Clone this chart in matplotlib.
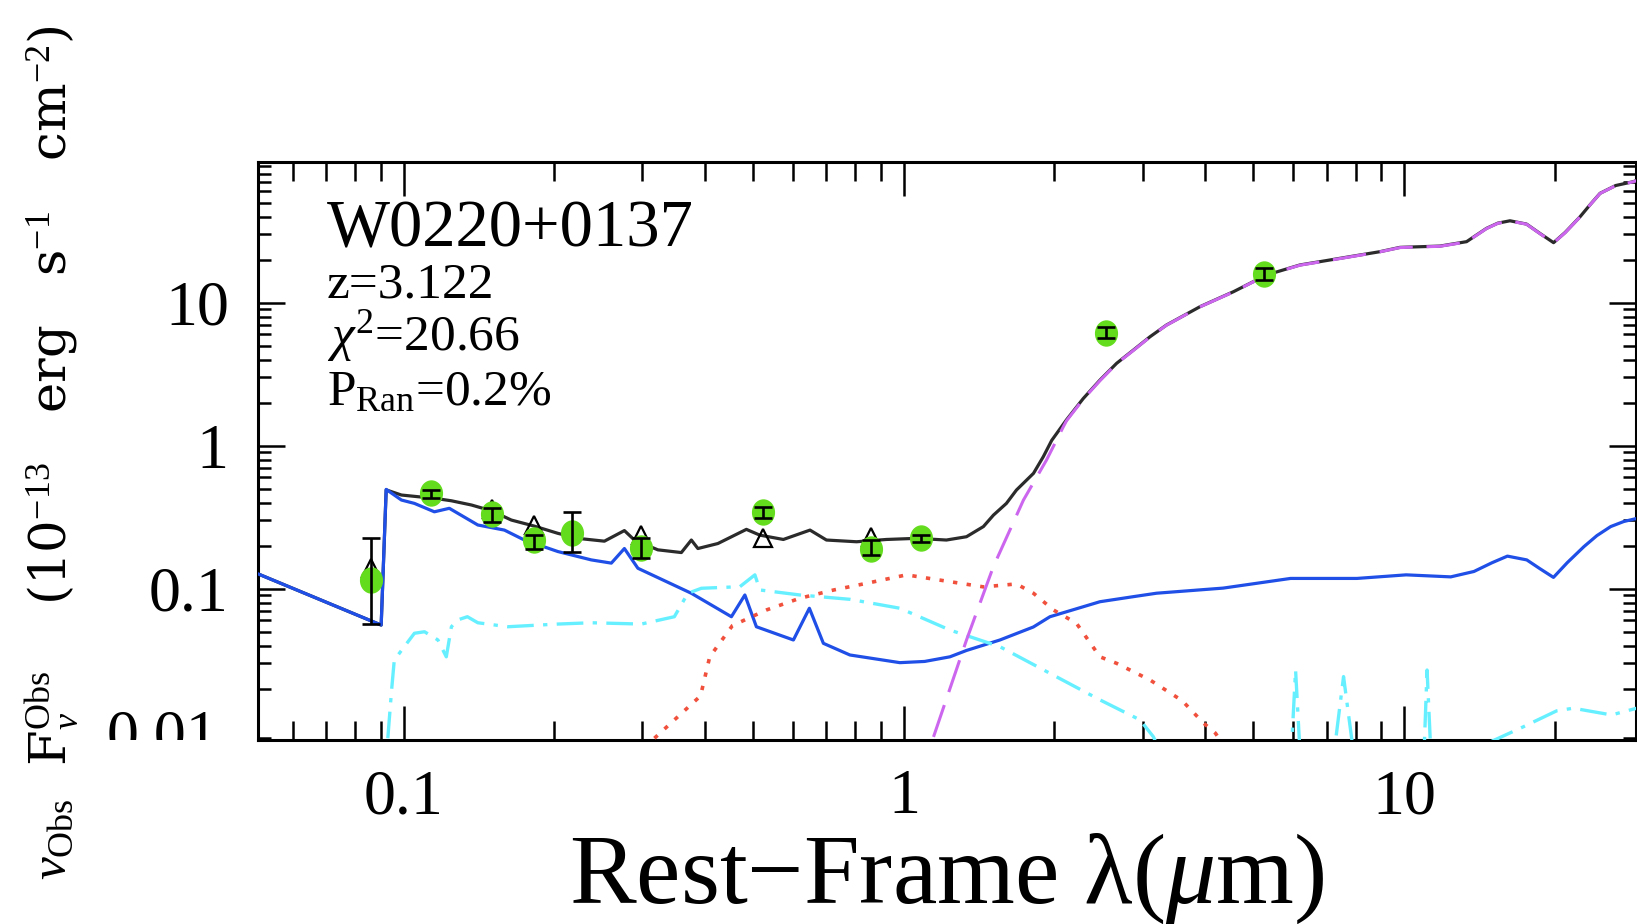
import matplotlib
matplotlib.use("Agg")
import matplotlib.pyplot as plt
import numpy as np
from matplotlib.path import Path
from matplotlib.transforms import Affine2D, Bbox, TransformedBbox, blended_transform_factory
from matplotlib.ticker import LogLocator, NullFormatter

plt.rcParams["font.family"] = ["Liberation Serif", "DejaVu Serif"]
plt.rcParams["mathtext.fontset"] = "custom"
plt.rcParams["mathtext.rm"] = "Liberation Serif"
plt.rcParams["mathtext.it"] = "Liberation Serif:italic"
plt.rcParams["mathtext.bf"] = "Liberation Serif:bold"

# --- SED model components (rest-frame micron, 1e-13 erg/s/cm^2) ---
lam_host = [0.0511, 0.0901, 0.0922, 0.0989, 0.105, 0.1151, 0.1233, 0.1406, 0.1589,
            0.1742, 0.2032, 0.2371, 0.260, 0.2761, 0.2938, 0.3758, 0.4519, 0.4808,
            0.507, 0.6012, 0.6471, 0.6902, 0.7798, 0.9817, 1.10, 1.236, 1.334,
            1.556, 1.815, 1.959, 2.466, 2.877, 3.2, 4.35, 5.93, 8.05, 10.1, 12.4,
            13.8, 15.0, 16.1, 17.6, 18.7, 19.9, 21.2, 22.9, 24.3, 25.9, 27.5, 29.2]
f_host = [0.127, 0.0557, 0.495, 0.417, 0.395, 0.345, 0.365, 0.279, 0.257,
          0.219, 0.182, 0.159, 0.151, 0.191, 0.139, 0.0929, 0.0637, 0.0904,
          0.0542, 0.0438, 0.0730, 0.0415, 0.0344, 0.0304, 0.0310, 0.0334, 0.037,
          0.0438, 0.054, 0.0637, 0.0811, 0.088, 0.093, 0.101, 0.118, 0.118, 0.125, 0.121,
          0.132, 0.152, 0.169, 0.159, 0.138, 0.120, 0.152, 0.197, 0.235, 0.272, 0.295, 0.310]

lam_total = [0.0511, 0.0901, 0.0922, 0.0989, 0.1067, 0.1151, 0.1245, 0.1365, 0.1496,
             0.1641, 0.1824, 0.2032, 0.2228, 0.2518, 0.2761, 0.2891, 0.3221, 0.3589,
             0.3758, 0.3873, 0.4246, 0.4842, 0.515, 0.574, 0.649, 0.700, 0.804,
             0.923, 1.059, 1.216, 1.334, 1.442, 1.51, 1.603, 1.679, 1.816, 1.90, 1.975,
             2.113, 2.284, 2.466, 2.663, 2.877, 3.105, 3.350, 3.908, 4.560, 5.309,
             6.194, 7.228, 8.954, 9.817, 11.80, 13.34, 14.62, 15.4, 16.29, 17.58,
             18.7, 19.91, 21.0, 22.49, 23.5, 24.66, 26.5, 28.71, 30.0]
f_total = [0.127, 0.0557, 0.491, 0.452, 0.440, 0.429, 0.412, 0.385, 0.351,
           0.302, 0.274, 0.244, 0.225, 0.215, 0.255, 0.219, 0.187, 0.179,
           0.219, 0.191, 0.207, 0.260, 0.237, 0.221, 0.257, 0.219, 0.213,
           0.221, 0.225, 0.219, 0.231, 0.272, 0.327, 0.395, 0.49, 0.641, 0.838, 1.09,
           1.514, 2.14, 2.877, 3.77, 4.667, 5.78, 6.982, 9.376, 11.94, 15.63,
           18.37, 20.09, 22.75, 24.38, 24.89, 26.73, 33.11, 36.0, 37.41, 35.48,
           30.5, 26.30, 31.0, 39.90, 48.0, 58.21, 66.0, 70.15, 74.0]

lam_agn = [1.146, 1.334, 1.510, 1.734, 1.928, 2.084, 2.113, 2.284, 2.466, 2.663,
           2.877, 3.105, 3.350, 3.908, 4.560, 5.309, 6.194, 7.228, 8.954, 9.817,
           11.80, 13.34, 14.62, 15.4, 16.29, 17.58, 18.7, 19.91, 21.0, 22.49, 23.5,
           24.66, 26.5, 28.71, 30.0]
f_agn = [0.0092, 0.0438, 0.143, 0.417, 0.794, 1.36, 1.49, 2.12, 2.85, 3.75,
         4.64, 5.76, 6.96, 9.35, 11.9, 15.6, 18.3, 20.0, 22.7, 24.3,
         24.8, 26.6, 33.0, 35.9, 37.3, 35.4, 30.4, 26.2, 30.9, 39.8, 47.9,
         58.1, 65.9, 70.0, 73.9]

lam_red = [0.317, 0.392, 0.409, 0.454, 0.531, 0.619, 0.723, 0.841, 1.012, 1.236,
           1.442, 1.679, 1.816, 1.991, 2.213, 2.466, 2.661, 3.105, 3.60, 3.972,
           4.198, 4.6]
f_red = [0.0090, 0.0178, 0.0334, 0.0552, 0.0710, 0.0857, 0.0979, 0.109, 0.125, 0.112,
         0.103, 0.108, 0.0929, 0.0710, 0.0573, 0.0334, 0.0301, 0.0230, 0.0165, 0.0115,
         0.00975, 0.006]

lam_cyan = [0.0929, 0.0944, 0.0957, 0.1002, 0.105, 0.110, 0.117, 0.1216, 0.1245,
            0.128, 0.134, 0.1406, 0.1614, 0.2032, 0.2371, 0.2985, 0.3475, 0.3698,
            0.3936, 0.4699, 0.5035, 0.5152, 0.6194, 0.7798, 0.9817, 1.236, 1.556,
            1.959, 2.466, 2.965, 3.155, 3.4, 5.9, 6.07, 6.25, 7.1, 7.57, 8.1, 10.9,
            11.12, 11.4, 14.9, 17.3, 20.2, 21.8, 26.0, 29.2]
f_cyan = [0.0090, 0.0185, 0.0317, 0.0393, 0.0488, 0.0500, 0.0438, 0.0334, 0.0542,
          0.0604, 0.0637, 0.0578, 0.0542, 0.0566, 0.0578, 0.0566, 0.0637, 0.0929,
          0.1007, 0.1033, 0.125, 0.098, 0.0904, 0.0843, 0.0730, 0.0514, 0.0393,
          0.0256, 0.0167, 0.0121, 0.0092, 0.005, 0.004, 0.027, 0.004, 0.004, 0.0243,
          0.004, 0.004, 0.027, 0.004, 0.0085, 0.0108, 0.0140, 0.0146, 0.0131, 0.0146]

# --- photometry ---
lam_obs = [0.0861, 0.1135, 0.150, 0.182, 0.217, 0.298, 0.523, 0.858, 1.084, 2.54, 5.26]
f_obs = [0.115, 0.465, 0.333, 0.219, 0.246, 0.194, 0.345, 0.191, 0.225, 6.1, 15.8]
err_lo = [0.058, 0.034, 0.039, 0.028, 0.065, 0.031, 0.035, 0.019, 0.012, 0.46, 1.4]
err_hi = [0.110, 0.025, 0.032, 0.018, 0.099, 0.031, 0.029, 0.028, 0.012, 0.69, 1.6]

lam_band = [0.0861, 0.150, 0.182, 0.298, 0.523, 0.858]
f_band = [0.14, 0.36, 0.279, 0.237, 0.225, 0.231]

W, H = 1637, 924
fig = plt.figure(figsize=(W / 100, H / 100), dpi=100)
ax = fig.add_axes([258 / W, (H - 740) / H, 1378 / W, 578 / H])
ax.set_xscale("log")
ax.set_yscale("log")
ax.set_xlim(0.0511, 29.1)
ax.set_ylim(0.00875, 96.4)

ax.plot(lam_total, f_total, color="#2b2b2b", lw=2.3, zorder=2)
ax.plot(lam_host, f_host, color="#1f4fe6", lw=2.3, zorder=3)
ax.plot(lam_red, f_red, color="#f0503c", lw=2.6, ls=(0, (1.2, 2.6)), zorder=3)
ax.plot(lam_cyan, f_cyan, color="#66f0ff", lw=2.4, ls=(0, (8, 2.8, 1.3, 2.8)), zorder=3)
ax.plot(lam_agn, f_agn, color="#cc66ee", lw=2.2, ls=(0, (11, 4.5)), zorder=4)

ax.plot(lam_band, f_band, ls="none", marker="^", ms=13, mfc="none", mec="black",
        mew=1.6, zorder=5)
ellipse = Path.unit_circle().transformed(Affine2D().scale(0.87, 1.0))
ax.plot(lam_obs, f_obs, ls="none", marker=ellipse, ms=18, mfc="#64dc1e",
        mec="#64dc1e", zorder=6)
ax.errorbar(lam_obs, f_obs, yerr=[err_lo, err_hi], fmt="none", ecolor="black",
            elinewidth=1.9, capsize=6.5, capthick=1.9, zorder=7)

ax.set_xticks([0.1, 1, 10], labels=["0.1", "1", "10"])
ax.set_yticks([0.1, 1, 10], labels=["0.1", "1", "10"])
for axis in (ax.xaxis, ax.yaxis):
    axis.set_minor_locator(LogLocator(base=10, subs=np.arange(2, 10)))
    axis.set_minor_formatter(NullFormatter())
ax.tick_params(which="both", direction="in", top=True, right=True, width=1.8,
               labelsize=46)
ax.tick_params(axis="x", which="major", length=24.5, pad=21)
ax.tick_params(axis="x", which="minor", length=13.7)
ax.tick_params(axis="y", which="major", length=19.5, pad=21)
ax.tick_params(axis="y", which="minor", length=9.5)
for sp in ax.spines.values():
    sp.set_linewidth(2.2)

# lowest y label is cut off by the bottom edge of the frame
low = ax.text(-0.029, 0.01, "0.01", fontsize=46, ha="right", va="center_baseline",
              transform=blended_transform_factory(ax.transAxes, ax.transData))
low.set_clip_box(TransformedBbox(Bbox([[-0.5, 0.0], [0.0, 1.0]]), ax.transAxes))
low.set_clip_on(True)

ax.set_xlabel("Rest\u2212Frame \u03bb($\\mu$m)", fontsize=72)
ax.xaxis.set_label_coords(0.5, -0.158)
fig.text(52 / W, 1 - 453 / H,
         r"$\nu_{\rm Obs}$  F$_\nu^{\rm Obs}$    (10$^{-13}$   erg   s$^{-1}$   cm$^{-2}$)",
         rotation=90, ha="center", va="center", fontsize=37, family="DejaVu Serif")

ax.text(0.050, 0.853, "W0220+0137", transform=ax.transAxes, fontsize=48, va="baseline")
ax.text(0.050, 0.765, "z=3.122", transform=ax.transAxes, fontsize=37, va="baseline")
ax.text(0.050, 0.675, r"$\chi^2$=20.66", transform=ax.transAxes, fontsize=37, va="baseline")
ax.text(0.050, 0.580, r"P$_{\rm Ran}$=0.2%", transform=ax.transAxes, fontsize=37,
        va="baseline")

fig.savefig("out.png", dpi=100)
